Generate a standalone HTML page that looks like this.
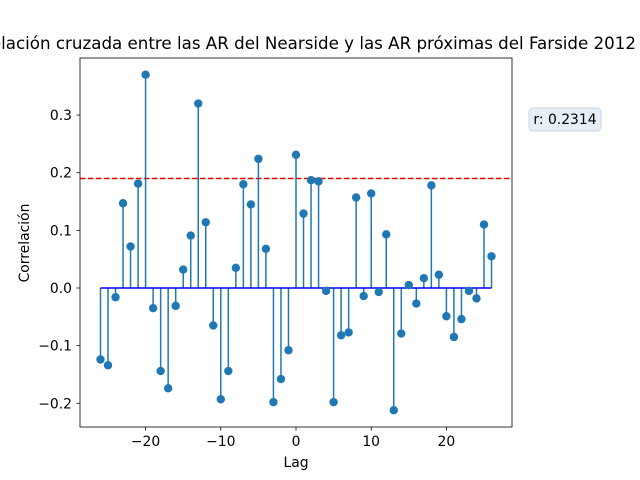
<!DOCTYPE html>
<html><head><meta charset="utf-8"><style>
body{margin:0;background:#fff;font-family:"DejaVu Sans","Liberation Sans",sans-serif}
svg text{font-family:"DejaVu Sans","Liberation Sans",sans-serif}
</style></head><body>
<svg id="c" width="640" height="480" xmlns="http://www.w3.org/2000/svg" style="display:block">
<rect x="0" y="0" width="640" height="480" fill="#fff"/>
<text x="-44" y="49" font-size="16.7" textLength="680" lengthAdjust="spacingAndGlyphs" fill="#000">Correlación cruzada entre las AR del Nearside y las AR próximas del Farside 2012</text>
<g id="plot"></g>
<rect x="80" y="58" width="432" height="369" fill="none" stroke="#000" stroke-width="0.8"/>
<g id="axes"></g>
<text x="296" y="467" text-anchor="middle" font-size="13.9">Lag</text>
<text transform="translate(29,243) rotate(-90)" text-anchor="middle" font-size="13.9">Correlación</text>
<g>
<rect x="529" y="108" width="72" height="23" rx="4" fill="#e6eef6" stroke="#c9d6e3"/>
<text x="565" y="124" text-anchor="middle" font-size="13.9">r: 0.2314</text>
</g>
</svg>
<script>
const lags=[-26,-25,-24,-23,-22,-21,-20,-19,-18,-17,-16,-15,-14,-13,-12,-11,-10,-9,-8,-7,-6,-5,-4,-3,-2,-1,0,1,2,3,4,5,6,7,8,9,10,11,12,13,14,15,16,17,18,19,20,21,22,23,24,25,26];
const corr=[-0.124,-0.134,-0.016,0.147,0.072,0.181,0.37,-0.035,-0.144,-0.174,-0.031,0.032,0.091,0.32,0.114,-0.065,-0.193,-0.144,0.035,0.18,0.145,0.224,0.068,-0.198,-0.158,-0.108,0.231,0.129,0.187,0.185,-0.005,-0.198,-0.082,-0.077,0.157,-0.014,0.164,-0.007,0.093,-0.212,-0.079,0.005,-0.027,0.017,0.178,0.023,-0.049,-0.085,-0.054,-0.005,-0.018,0.11,0.055];
const threshold=0.19;
const xTicks=[-20,-10,0,10,20];
const yTicks=[-0.2,-0.1,0.0,0.1,0.2,0.3];
const NS='http://www.w3.org/2000/svg';
const X=v=>296+v*7.52;
const Y=v=>288-v*576.5;
function mk(t,a,p){const e=document.createElementNS(NS,t);for(const k in a)e.setAttribute(k,a[k]);p.appendChild(e);return e;}
const plot=document.getElementById('plot'),axes=document.getElementById('axes');
const th=mk('line',{x1:80,x2:512,y1:Y(threshold),y2:Y(threshold),stroke:'#e00',"stroke-width":1.5,"stroke-dasharray":"5.5,2.5"},plot);


lags.forEach((l,i)=>{
 const s=mk('line',{x1:X(l),x2:X(l),y1:Y(0),y2:Y(corr[i]),stroke:'#1f77b4',"stroke-width":1.5},plot);
 
 
});
const base=mk('line',{x1:X(lags[0]),x2:X(lags[lags.length-1]),y1:Y(0),y2:Y(0),stroke:'#0000ff',"stroke-width":1.5},plot);


lags.forEach((l,i)=>{
 const c=mk('circle',{cx:X(l),cy:Y(corr[i]),r:4.2,fill:'#1f77b4'},plot);
 
 
});
xTicks.forEach(t=>{
 const g=mk('g',{},axes);
 
 
 mk('line',{x1:X(t),x2:X(t),y1:427,y2:430.5,stroke:'#000',"stroke-width":0.8},g);
 const tx=mk('text',{x:X(t),y:446,"text-anchor":"middle","font-size":13.9},g);tx.textContent=(t<0?'\u2212'+(-t):t);
});
yTicks.forEach(t=>{
 const g=mk('g',{},axes);
 
 
 mk('line',{x1:76.5,x2:80,y1:Y(t),y2:Y(t),stroke:'#000',"stroke-width":0.8},g);
 const tx=mk('text',{x:72,y:Y(t)+5,"text-anchor":"end","font-size":13.9},g);tx.textContent=(t<0?'\u2212':'')+Math.abs(t).toFixed(1);
});
</script>
</body></html>
